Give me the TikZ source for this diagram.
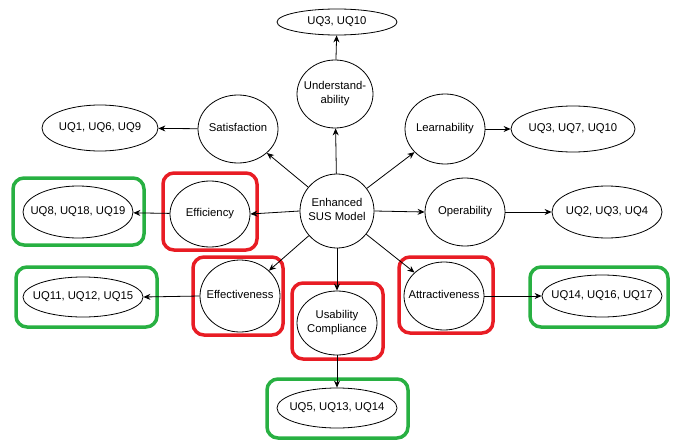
\documentclass[tikz,border=0pt]{standalone}
\usepackage{fontspec}
\setmainfont{Liberation Sans}
\usetikzlibrary{shapes.geometric,arrows.meta}
\definecolor{boxred}{RGB}{232,28,36}
\definecolor{boxgreen}{RGB}{40,176,66}
\newcommand\zt[1]{\makebox[0pt]{\begin{tabular}{@{}c@{}}#1\end{tabular}}}
\begin{document}
\begin{tikzpicture}[x=1pt,y=-1pt,
  ell/.style={draw, ellipse, inner sep=0pt, line width=0.8pt,
    font=\fontsize{11.3}{14}\selectfont},
  conn/.style={-{Stealth[length=7pt,width=6pt]}, line width=0.8pt},
  redbox/.style={draw=boxred, line width=3.5pt, rounded corners=11pt, inner sep=0pt},
  greenbox/.style={draw=boxgreen, line width=3.5pt, rounded corners=11pt, inner sep=0pt}]
\useasboundingbox (0,0) rectangle (676,441);
% highlight boxes
\node[redbox, minimum width=94pt, minimum height=77pt] (effbox) at (210,211.5) {};
\node[greenbox, minimum width=131pt, minimum height=67pt] (q81819box) at (78.5,211.5) {};
\node[redbox, minimum width=90pt, minimum height=78pt] (effebox) at (238,296) {};
\node[greenbox, minimum width=141pt, minimum height=60pt] (q111215box) at (86.5,297) {};
\node[redbox, minimum width=94pt, minimum height=76pt] (attbox) at (446,295) {};
\node[greenbox, minimum width=138pt, minimum height=60pt] (q141617box) at (599,297) {};
\node[redbox, minimum width=91pt, minimum height=76pt] (usabox) at (337.5,321) {};
\node[greenbox, minimum width=141pt, minimum height=59pt] (q51314box) at (337.5,408.5) {};
% ellipses
\node[ell, minimum width=74pt, minimum height=74pt] (c) at (337,211) {\zt{Enhanced\\SUS Model}};
\node[ell, minimum width=76pt, minimum height=68pt] (und) at (335,94) {\zt{Understand-\\ability}};
\node[ell, minimum width=120pt, minimum height=26pt] (q310) at (337,22) {\zt{UQ3, UQ10}};
\node[ell, minimum width=80pt, minimum height=68pt] (sat) at (238,129) {\zt{Satisfaction}};
\node[ell, minimum width=80pt, minimum height=70pt] (lea) at (445,129) {\zt{Learnability}};
\node[ell, minimum width=116pt, minimum height=46pt] (q169) at (100,128) {\zt{UQ1, UQ6, UQ9}};
\node[ell, minimum width=124pt, minimum height=46pt] (q3710) at (573,129) {\zt{UQ3, UQ7, UQ10}};
\node[ell, minimum width=80pt, minimum height=66pt] (eff) at (210,214) {\zt{Efficiency}};
\node[ell, minimum width=110pt, minimum height=52pt] (q81819) at (78,212) {\zt{UQ8, UQ18, UQ19}};
\node[ell, minimum width=80pt, minimum height=72pt] (effe) at (240,296) {\zt{Effectiveness}};
\node[ell, minimum width=120pt, minimum height=40pt] (q111215) at (83,297) {\zt{UQ11, UQ12, UQ15}};
\node[ell, minimum width=80pt, minimum height=68pt] (ope) at (465,212) {\zt{Operability}};
\node[ell, minimum width=110pt, minimum height=52pt] (q234) at (607,212) {\zt{UQ2, UQ3, UQ4}};
\node[ell, minimum width=80pt, minimum height=68pt] (att) at (444,296) {\zt{Attractiveness}};
\node[ell, minimum width=120pt, minimum height=42pt] (q141617) at (602,296) {\zt{UQ14, UQ16, UQ17}};
\node[ell, minimum width=80pt, minimum height=64pt] (usa) at (337,323) {\zt{Usability\\Compliance}};
\node[ell, minimum width=120pt, minimum height=40pt] (q51314) at (337,408) {\zt{UQ5, UQ13, UQ14}};
% connectors
\draw[conn] (c) -- (und);
\draw[conn] (und) -- (q310);
\draw[conn] (c) -- (sat);
\draw[conn] (sat) -- (q169);
\draw[conn] (c) -- (lea);
\draw[conn] (lea) -- (q3710);
\draw[conn] (c.west) -- (eff.east);
\draw[conn] (eff) -- (q81819);
\draw[conn] (c.east) -- (ope.west);
\draw[conn] (ope) -- (q234);
\draw[conn] (c) -- (effe);
\draw[conn] (effe.west) -- (q111215.east);
\draw[conn] (c) -- (att);
\draw[conn] (att.east) -- (q141617.west);
\draw[conn] (c) -- (usa);
\draw[conn] (usa) -- (q51314);
\end{tikzpicture}
\end{document}
